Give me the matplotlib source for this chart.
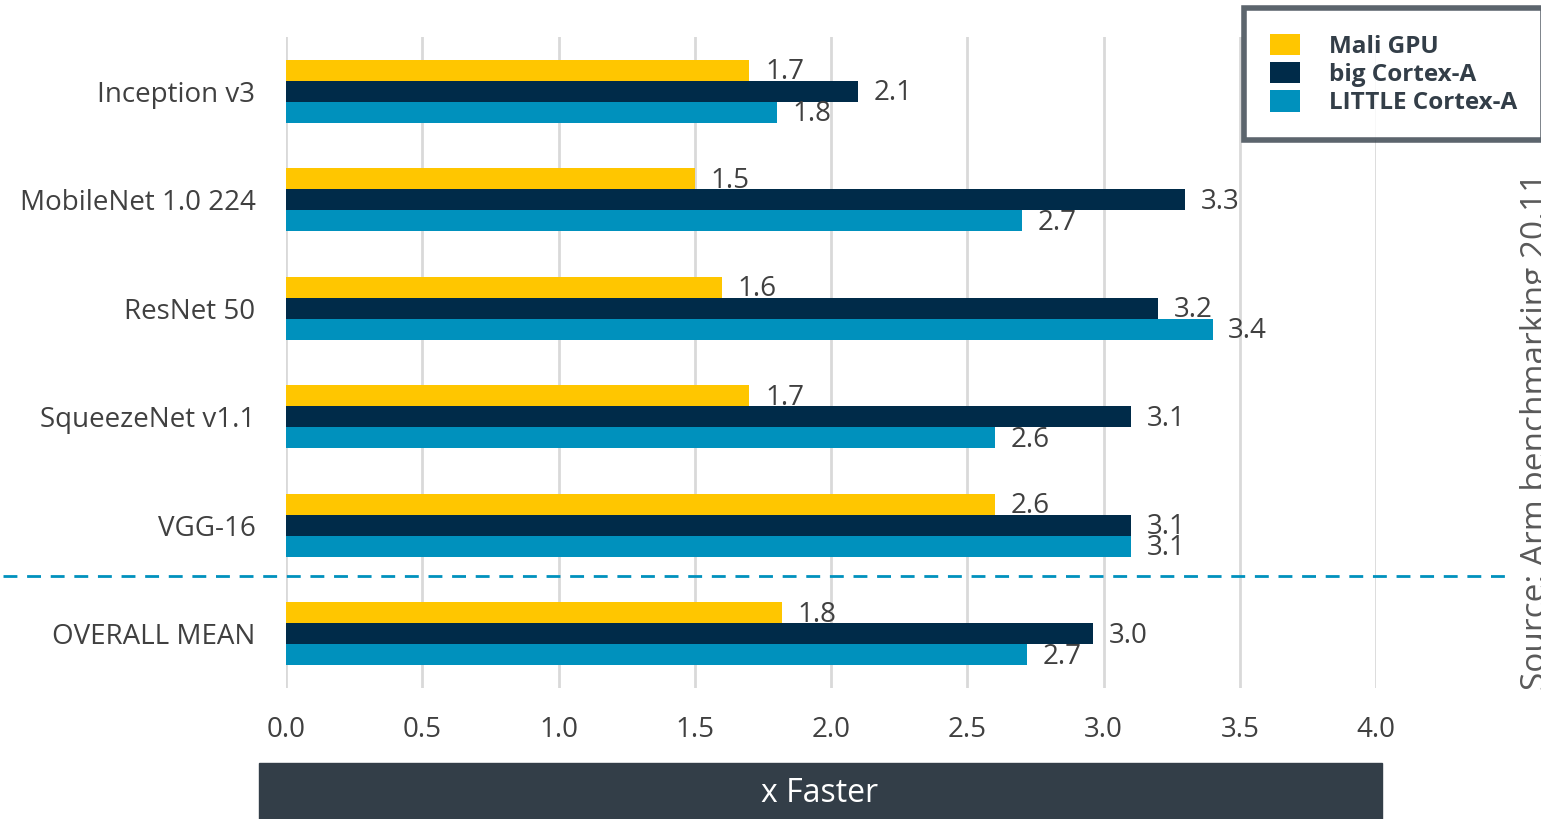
import matplotlib
matplotlib.use("Agg")
import matplotlib.pyplot as plt
from matplotlib.lines import Line2D
from matplotlib.patches import Rectangle
import numpy as np

plt.rcParams["font.family"] = ["Open Sans", "DejaVu Sans"]

networks = ["Inception v3", "MobileNet 1.0 224", "ResNet 50",
            "SqueezeNet v1.1", "VGG-16", "OVERALL MEAN"]
series_names = ["Mali GPU", "big Cortex-A", "LITTLE Cortex-A"]
mali_gpu = [1.7, 1.5, 1.6, 1.7, 2.6, 1.82]
big_cortex = [2.1, 3.3, 3.2, 3.1, 3.1, 2.96]
little_cortex = [1.8, 2.7, 3.4, 2.6, 3.1, 2.72]
x_ticks = [0.0, 0.5, 1.0, 1.5, 2.0, 2.5, 3.0, 3.5, 4.0]

colors = ["#FFC600", "#002B49", "#0091BD"]
text_gray = "#404040"
dark = "#333E48"

W, H = 1541, 819
fig = plt.figure(figsize=(W / 100, H / 100), dpi=100)
ax = fig.add_axes([286 / W, 1 - 688 / H, (1376 - 286) / W, (688 - 37) / H])

y = np.arange(len(networks))
bh = 0.194
for i, (vals, col, name) in enumerate(zip([mali_gpu, big_cortex, little_cortex],
                                          colors, series_names)):
    pos = y + (i - 1) * bh
    ax.barh(pos, vals, height=bh, color=col, label=name, zorder=3)
    for p, v in zip(pos, vals):
        ax.text(v + 0.058, p + 0.02, f"{v:.1f}", va="center", ha="left",
                fontsize=20, color=text_gray, zorder=4)

ax.set_xlim(0, 4.0)
ax.set_ylim(len(networks) - 0.5, -0.5)
ax.set_xticks(x_ticks)
ax.set_xticklabels([f"{t:.1f}" for t in x_ticks])
ax.set_yticks(y)
ax.set_yticklabels(networks)
ax.tick_params(axis="both", length=0, labelsize=20, labelcolor=text_gray)
ax.tick_params(axis="y", pad=22)
ax.tick_params(axis="x", pad=20)
ax.grid(axis="x", color="#D9D9D9", linewidth=2, zorder=0)
for s in ax.spines.values():
    s.set_visible(False)

# dashed separator before the overall mean
fig.add_artist(Line2D([3 / W, 1510 / W], [1 - 576 / H, 1 - 576 / H],
                      color="#0091BD", linewidth=2, linestyle=(0, (5, 3.5))))

# x-axis caption band
fig.add_artist(Rectangle((259 / W, 0), (1382 - 259) / W, (819 - 763) / H,
                         color=dark, transform=fig.transFigure, zorder=1))
fig.text(820 / W, 1 - 793 / H, "x Faster", color="white", fontsize=23,
         ha="center", va="center", zorder=2)

# source note, partly cut off at the right edge
fig.text(1520 / W, 1 - 690 / H, "Source: Arm benchmarking 20.11", rotation=90,
         ha="left", va="bottom", fontsize=24, color="#595959")

leg = fig.legend(loc="upper left", bbox_to_anchor=(1244 / W, 1 - 8 / H),
                 frameon=True, fancybox=False,
                 prop={"weight": "bold", "size": 17.5},
                 handlelength=1.25, handleheight=1.0, handletextpad=1.2,
                 labelspacing=0.12, borderpad=1.05, borderaxespad=0)
leg.get_frame().set_edgecolor(dark)
leg.get_frame().set_linewidth(4)
for t in leg.get_texts():
    t.set_color(dark)

fig.savefig("out.png", dpi=100)
